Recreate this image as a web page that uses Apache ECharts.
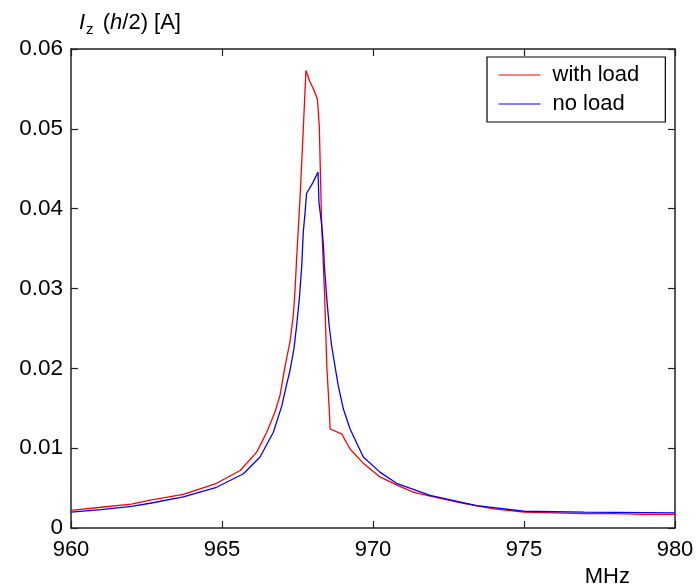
<!DOCTYPE html>
<html>
<head>
<meta charset="utf-8">
<script src="https://cdn.jsdelivr.net/npm/echarts@6/dist/echarts.min.js"></script>
<style>html,body{margin:0;padding:0;background:#fff}#c{width:697px;height:588px}</style>
</head>
<body>
<div id="c"></div>
<script>
const xTicks = [960, 965, 970, 975, 980];
const yTicks = [0, 0.01, 0.02, 0.03, 0.04, 0.05, 0.06];

const withLoadFreq = [960, 961, 962, 962.62, 963.72, 964.82, 965.6, 966.15, 966.48, 966.75, 966.92, 967.09, 967.25, 967.36, 967.42, 967.47, 967.58, 967.68, 967.78, 967.9, 968.05, 968.16, 968.22, 968.3, 968.4, 968.47, 968.55, 968.58, 968.96, 969.24, 969.68, 970.23, 970.78, 971.33, 971.89, 972.99, 974, 975, 976, 977, 978, 979, 980];
const withLoadI = [0.0022, 0.0026, 0.0030, 0.0035, 0.0042, 0.0056, 0.0072, 0.0095, 0.0120, 0.0145, 0.0166, 0.0203, 0.0233, 0.0266, 0.0299, 0.0337, 0.0411, 0.0490, 0.0573, 0.0560, 0.0548, 0.0537, 0.0505, 0.0380, 0.0290, 0.0203, 0.0149, 0.0124, 0.0118, 0.0099, 0.0081, 0.0064, 0.0054, 0.0045, 0.0040, 0.0031, 0.0024, 0.0020, 0.0019, 0.0018, 0.0018, 0.0017, 0.0017];

const noLoadFreq = [960, 961, 962, 962.62, 963.72, 964.82, 965.71, 966.26, 966.7, 966.98, 967.14, 967.25, 967.38, 967.47, 967.56, 967.64, 967.69, 967.75, 967.8, 968.0, 968.18, 968.21, 968.3, 968.36, 968.39, 968.47, 968.55, 968.63, 968.74, 968.85, 969.02, 969.24, 969.68, 970.23, 970.78, 971.89, 973.43, 975, 977, 980];
const noLoadI = [0.0020, 0.0023, 0.0027, 0.0031, 0.0039, 0.0051, 0.0068, 0.0089, 0.0120, 0.0153, 0.0180, 0.0197, 0.0224, 0.0253, 0.0287, 0.0328, 0.0370, 0.0395, 0.0419, 0.0432, 0.0446, 0.0408, 0.0380, 0.0353, 0.0328, 0.0287, 0.0253, 0.0228, 0.0203, 0.0178, 0.0149, 0.0124, 0.0089, 0.0070, 0.0056, 0.0041, 0.0028, 0.0021, 0.0020, 0.0019];

const zip = (a, b) => a.map((v, i) => [v, b[i]]);
const FONT = 'Liberation Sans, Arial, sans-serif';
const AX = '#222';

const chart = echarts.init(document.getElementById('c'), null, {renderer: 'canvas'});
const axisCommon = {
  axisLine: {show: true, onZero: false, lineStyle: {color: AX, width: 1.5}},
  axisTick: {show: true, inside: true, length: 7, lineStyle: {color: AX, width: 1.2}},
  splitLine: {show: false}
};
chart.setOption({
  animation: false,
  backgroundColor: '#fff',
  grid: {left: 71, right: 22, top: 49, bottom: 58, containLabel: false},
  title: {
    left: 74, top: 4,
    text: '{i|I}{sub|z} ({i|h}/2) [A]',
    textStyle: {
      fontFamily: FONT, fontSize: 22, fontWeight: 'normal', color: '#000',
      rich: {
        i: {fontStyle: 'italic', fontFamily: FONT, fontSize: 22, color: '#000'},
        sub: {fontSize: 15, fontFamily: FONT, color: '#000', padding: [13, 3, 0, 1]}
      }
    }
  },
  legend: {
    orient: 'vertical',
    left: 487, top: 57,
    padding: [7, 26, 7, 11],
    itemGap: 7,
    itemWidth: 42, itemHeight: 14,
    borderColor: '#000', borderWidth: 1.2, backgroundColor: '#fff',
    itemStyle: {opacity: 0},
    lineStyle: {width: 1},
    textStyle: {fontFamily: FONT, fontSize: 22, color: '#000', lineHeight: 22, padding: [0, 0, 0, 7]},
    data: ['with load', 'no load']
  },
  xAxis: [
    Object.assign({
      type: 'value', min: 960, max: 980, interval: 5, position: 'bottom',
      name: 'MHz', nameLocation: 'end', nameGap: -45,
      nameTextStyle: {fontFamily: FONT, fontSize: 22, color: '#000', align: 'right', verticalAlign: 'top', padding: [38, 0, 0, 0]},
      axisLabel: {fontFamily: FONT, fontSize: 22, color: '#000', margin: 11,
        formatter: v => xTicks.includes(v) ? String(v) : ''}
    }, axisCommon),
    Object.assign({
      type: 'value', min: 960, max: 980, interval: 5, position: 'top',
      axisLabel: {show: false}
    }, axisCommon)
  ],
  yAxis: [
    Object.assign({
      type: 'value', min: 0, max: 0.06, interval: 0.01, position: 'left',
      axisLabel: {fontFamily: FONT, fontSize: 22.5, color: '#000', margin: 8,
        formatter: v => { const t = yTicks.find(k => Math.abs(k - v) < 1e-9); return t === undefined ? '' : (t === 0 ? '0' : t.toFixed(2)); }}
    }, axisCommon),
    Object.assign({
      type: 'value', min: 0, max: 0.06, interval: 0.01, position: 'right',
      axisLabel: {show: false}
    }, axisCommon)
  ],
  series: [
    {name: 'with load', type: 'line', symbol: 'none', data: zip(withLoadFreq, withLoadI),
      lineStyle: {color: '#ff0000', width: 1.3}, itemStyle: {color: '#ff0000'}, z: 3},
    {name: 'no load', type: 'line', symbol: 'none', data: zip(noLoadFreq, noLoadI),
      lineStyle: {color: '#0000ff', width: 1.3}, itemStyle: {color: '#0000ff'}, z: 4}
  ]
});
</script>
</body>
</html>
